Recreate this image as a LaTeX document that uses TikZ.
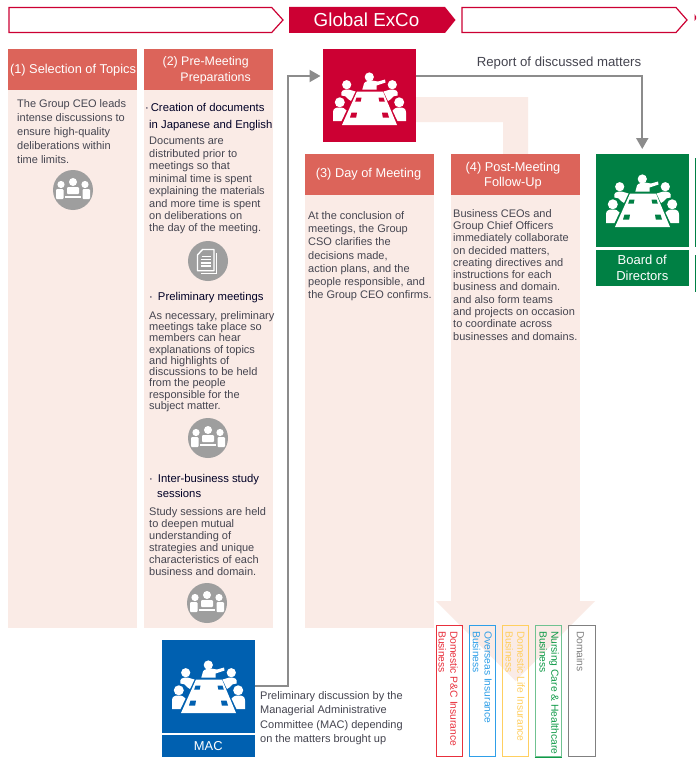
\documentclass[tikz,border=0pt]{standalone}
\usepackage{fontspec}
\setmainfont{Liberation Sans}
\usetikzlibrary{arrows.meta,calc}
\definecolor{exred}{HTML}{CC0033}
\definecolor{hdr}{HTML}{DC645A}
\definecolor{pinkbg}{HTML}{FAEBE6}
\definecolor{txt}{HTML}{454550}
\definecolor{conn}{HTML}{8C8C8C}
\definecolor{icongrey}{HTML}{9E9E9E}
\definecolor{bdgreen}{HTML}{008044}
\definecolor{macblue}{HTML}{0060B0}
\definecolor{bred}{HTML}{E8303C}
\definecolor{bblue}{HTML}{2E9FE8}
\definecolor{byellow}{HTML}{FFCF60}
\definecolor{bgreen}{HTML}{109A48}
\definecolor{bgrey}{HTML}{808080}
\tikzset{
  x=1pt,y=-1pt,
  flag/.style={draw=exred,line width=1.2pt,fill=white},
  hdrbox/.style={fill=hdr,anchor=north west,minimum width=129pt,minimum height=41pt,inner sep=0pt,outer sep=0pt},
  hdrtext/.style={font=\fontsize{12.8}{15.6}\selectfont,text=white,inner sep=0pt,align=center},
  bodybox/.style={fill=pinkbg,anchor=north west,minimum width=129pt,inner sep=0pt,outer sep=0pt},
  bodytext/.style={font=\fontsize{11}{#1}\selectfont,text=txt,align=left,anchor=north west,inner sep=0pt},
  bodytext/.default={12.4},
  leadtext/.style={font=\fontsize{11.3}{15}\selectfont,text=black!85!blue,align=left,anchor=north west,inner sep=0pt},
  squarebox/.style={anchor=north west,minimum width=92.5pt,minimum height=92.5pt,inner sep=0pt,outer sep=0pt},
  labelbox/.style={anchor=north west,minimum width=92.5pt,inner sep=0pt,outer sep=0pt,text=white,align=center},
  link/.style={draw=conn,line width=2pt,-{Triangle[length=11pt,width=12pt]}},
  plainlink/.style={draw=conn,line width=2pt},
  bizbox/.style={draw=#1,line width=1.3pt,anchor=north west,minimum width=26.5pt,minimum height=131pt,inner sep=0pt},
  biztext/.style={text=#1,font=\fontsize{10.3}{11.7}\selectfont,rotate=-90,anchor=north west,align=left,inner sep=0pt},
}
\newcommand{\meetingicon}[2]{%
  \begin{scope}[shift={#1}]
    \fill[white] (46.3,25) circle (4.6);
    \fill[white] (39.3,37.7) -- (41,31.5) .. controls (42,29) and (46,28.7) .. (50,28.7) -- (55,29.5) -- (62,27.5) -- (62.5,30.5) -- (53.5,33.5) -- (53.5,37.7) -- cycle;
    \fill[white] (34,39.5) -- (60,39.5) -- (74,73) -- (19,73) -- cycle;
    \fill[#2] (33.5,45.5) -- (38.5,45.5) -- (37.7,49.5) -- (32.2,49.5) -- cycle;
    \fill[#2] (55.5,45.5) -- (60.5,45.5) -- (61.8,49.5) -- (56.3,49.5) -- cycle;
    \fill[#2] (28.5,60.5) -- (34,60.5) -- (33.2,65.5) -- (27,65.5) -- cycle;
    \fill[#2] (59,60.5) -- (64.5,60.5) -- (66,65.5) -- (59.8,65.5) -- cycle;
    \foreach \s in {1,-1}{
      \begin{scope}[shift={(46.5,0)},xscale=\s]
        \fill[white] (-22.8,32.7) circle (4.6);
        \fill[white] (-29.7,50.3) circle (5);
        \fill[white] (-28,43.5) .. controls (-29.5,38.5) and (-26,37.5) .. (-21,37.5) -- (-14,39.5) -- (-18.5,49) -- (-21.5,47) .. controls (-22.5,44.5) and (-25,43.5) .. (-28,43.5) -- cycle;
        \fill[white] (-36.5,69) -- (-36.5,60.5) .. controls (-36.5,56.5) and (-34,55.5) .. (-30,55.5) .. controls (-26.5,55.5) and (-24.5,56.5) .. (-23,58.5) -- (-28,69) -- cycle;
      \end{scope}
    }
  \end{scope}}
\newcommand{\peopleicon}[1]{%
  \begin{scope}[shift={#1}]
    \fill[icongrey] (0,0) circle (20);
    \fill[white] (0,-8) circle (4);
    \fill[white] (-12,-5.5) circle (3.6);
    \fill[white] (12,-5.5) circle (3.6);
    \fill[white,rounded corners=1.2pt] (-6,4.2) rectangle (6,-3);
    \fill[white,rounded corners=1pt] (-17,9) rectangle (-9.5,-0.8);
    \fill[white,rounded corners=1pt] (9.5,9) rectangle (17,-0.8);
    \fill[white] (-8,5.6) rectangle (8,7.6);
  \end{scope}}
\newcommand{\docicon}[1]{%
  \begin{scope}[shift={#1}]
    \fill[icongrey] (0,0) circle (20);
    \draw[white,line width=1pt] (8.5,-8) -- (8.5,12.2) -- (-7,12.2);
    \draw[white,line width=1.4pt,line join=round] (-10.5,-6) -- (-5.5,-11.5) -- (6,-11.5) -- (6,9.7) -- (-10.5,9.7) -- cycle;
    \draw[white,line width=1.3pt] (-6.5,-4.5) -- (3,-4.5) (-7.5,-1.3) -- (3,-1.3) (-7.5,1.9) -- (3,1.9) (-7.5,5.1) -- (3,5.1);
  \end{scope}}
\begin{document}
\begin{tikzpicture}
\useasboundingbox (0,0) rectangle (696,760);
\fill[white] (0,0) rectangle (696,760);

% top flags
\draw[flag] (9,7.5) -- (271.7,7.5) -- (283,20) -- (271.7,32.5) -- (9,32.5) -- cycle;
\fill[exred] (289,7) -- (445,7) -- (455.5,20) -- (445,33) -- (289,33) -- cycle;
\node[font=\fontsize{18.8}{20}\selectfont,text=white,inner sep=0pt] (title) at (366.5,20) {Global ExCo};
\draw[flag] (462,7.5) -- (676,7.5) -- (687,20) -- (676,32.5) -- (462,32.5) -- cycle;
\fill[exred] (694.6,14) -- (696,16.5) -- (696,19) -- (694.6,21) -- cycle;

% pink band and arrow
\fill[pinkbg] (415,97) -- (528,97) -- (528,154) -- (503,154) -- (503,122) -- (415,122) -- cycle;
\fill[pinkbg] (451,195) rectangle (580,601);
\fill[pinkbg] (436,601) -- (595,601) -- (515.5,681) -- cycle;

% column backgrounds
\node[bodybox,minimum height=538pt] (body1) at (8,90) {};
\node[bodybox,minimum height=538pt] (body2) at (144,90) {};
\node[bodybox,minimum height=433pt] (body3) at (305,195) {};
\node[hdrbox] (head1) at (8,49) {};
\node[hdrbox] (head2) at (144,49) {};
\node[hdrbox] (head3) at (305,154) {};
\node[hdrbox] (head4) at (451,154) {};
\node[hdrtext] (head1t) at (73,70) {(1) Selection of Topics};
\node[hdrtext,font=\fontsize{12.4}{16}\selectfont,align=right,anchor=east] (head2t) at (251,70.5) {(2) Pre-Meeting\hspace*{2pt}\\Preparations};
\node[hdrtext] (head3t) at (368.5,174.5) {(3) Day of Meeting};
\node[hdrtext] (head4t) at (513,175.5) {(4) Post-Meeting\\Follow-Up};

% column 1
\node[bodytext=14] (t1) at (17,99) {The Group CEO leads\\intense discussions to\\ensure high-quality\\deliberations within\\time limits.};
\peopleicon{(73,190)}

% column 2
\node[leadtext,font=\fontsize{11.3}{17}\selectfont] (l2a) at (145,103) {·\,Creation of documents\\\hspace*{4pt}in Japanese and English};
\node[bodytext=12.45] (t2a) at (149,137) {Documents are\\distributed prior to\\meetings so that\\minimal time is spent\\explaining the materials\\and more time is spent\\on deliberations on\\the day of the meeting.};
\docicon{(208,261)}
\node[leadtext] (l2b) at (149,292.5) {·\ \,Preliminary meetings};
\node[bodytext=11.3] (t2b) at (149,311) {As necessary, preliminary\\meetings take place so\\members can hear\\explanations of topics\\and highlights of\\discussions to be held\\from the people\\responsible for the\\subject matter.};
\peopleicon{(208,438)}
\node[leadtext] (l2c) at (149,474.5) {·\ \,Inter-business study\\\hspace*{8pt}sessions};
\node[bodytext=12] (t2c) at (149,507) {Study sessions are held\\to deepen mutual\\understanding of\\strategies and unique\\characteristics of each\\business and domain.};
\peopleicon{(207,603)}

% column 3
\node[bodytext=13.3] (t3) at (308,211) {At the conclusion of\\meetings, the Group\\CSO clarifies the\\decisions made,\\action plans, and the\\people responsible, and\\the Group CEO confirms.};

% column 4
\node[bodytext=12.3] (t4) at (453,209) {Business CEOs and\\Group Chief Officers\\immediately collaborate\\on decided matters,\\creating directives and\\instructions for each\\business and domain.\\and also form teams\\and projects on occasion\\to coordinate across\\businesses and domains.};

% meeting boxes
\node[squarebox,fill=exred] (exco) at (323,49) {};
\meetingicon{(323,52)}{exred}
\node[squarebox,fill=bdgreen] (board) at (596,154) {};
\meetingicon{(596,154)}{bdgreen}
\node[labelbox,fill=bdgreen,minimum height=36pt,font=\fontsize{13}{16}\selectfont] (boardl) at (596,250) {Board of\\Directors};
\node[squarebox,fill=macblue] (mac) at (162,640) {};
\meetingicon{(162,640)}{macblue}
\node[labelbox,fill=macblue,minimum height=22pt,font=\fontsize{12.9}{14}\selectfont] (macl) at (162,735) {MAC};

% connectors
\coordinate (bend) at (288,76);
\draw[plainlink,line join=miter] (mac.east) -| (bend) -- ++(21,0);
\draw[link,shorten >=2.5pt] (bend) -- (exco.west |- bend);
\draw[link,shorten >=5pt] (exco.east |- bend) -| (board.north);
\node[font=\fontsize{13.2}{15}\selectfont,text=txt,inner sep=0pt] (report) at (559,63) {Report of discussed matters};

% MAC note
\node[bodytext=14.6] (mact) at (260,691) {Preliminary discussion by the\\Managerial Administrative\\Committee (MAC) depending\\on the matters brought up};

% right-edge lines
\draw[bdgreen,line width=1pt] (695.5,158) -- (695.5,247) (695.5,255) -- (695.5,292);

% business boxes
\node[bizbox=bred] (b1) at (435.5,625) {};
\node[biztext=bred] (b1t) at (458,631) {Domestic P\&C Insurance\\Business};
\node[bizbox=bblue] (b2) at (468.5,625) {};
\node[biztext=bblue] (b2t) at (492,631) {Overseas Insurance\\Business};
\node[bizbox=byellow] (b3) at (501.5,625) {};
\node[biztext=byellow] (b3t) at (525,631) {Domestic Life Insurance\\Business};
\node[bizbox=bgreen!60!white] (b4) at (534.5,625) {};
\draw[bgreen,line width=1.3pt] (b4.south west) -- (b4.south east);
\node[biztext=bgreen] (b4t) at (559,631) {Nursing Care \& Healthcare\\Business};
\node[bizbox=bgrey] (b5) at (568,625) {};
\node[biztext=bgrey] (b5t) at (584.5,631) {Domains};
\end{tikzpicture}
\end{document}
